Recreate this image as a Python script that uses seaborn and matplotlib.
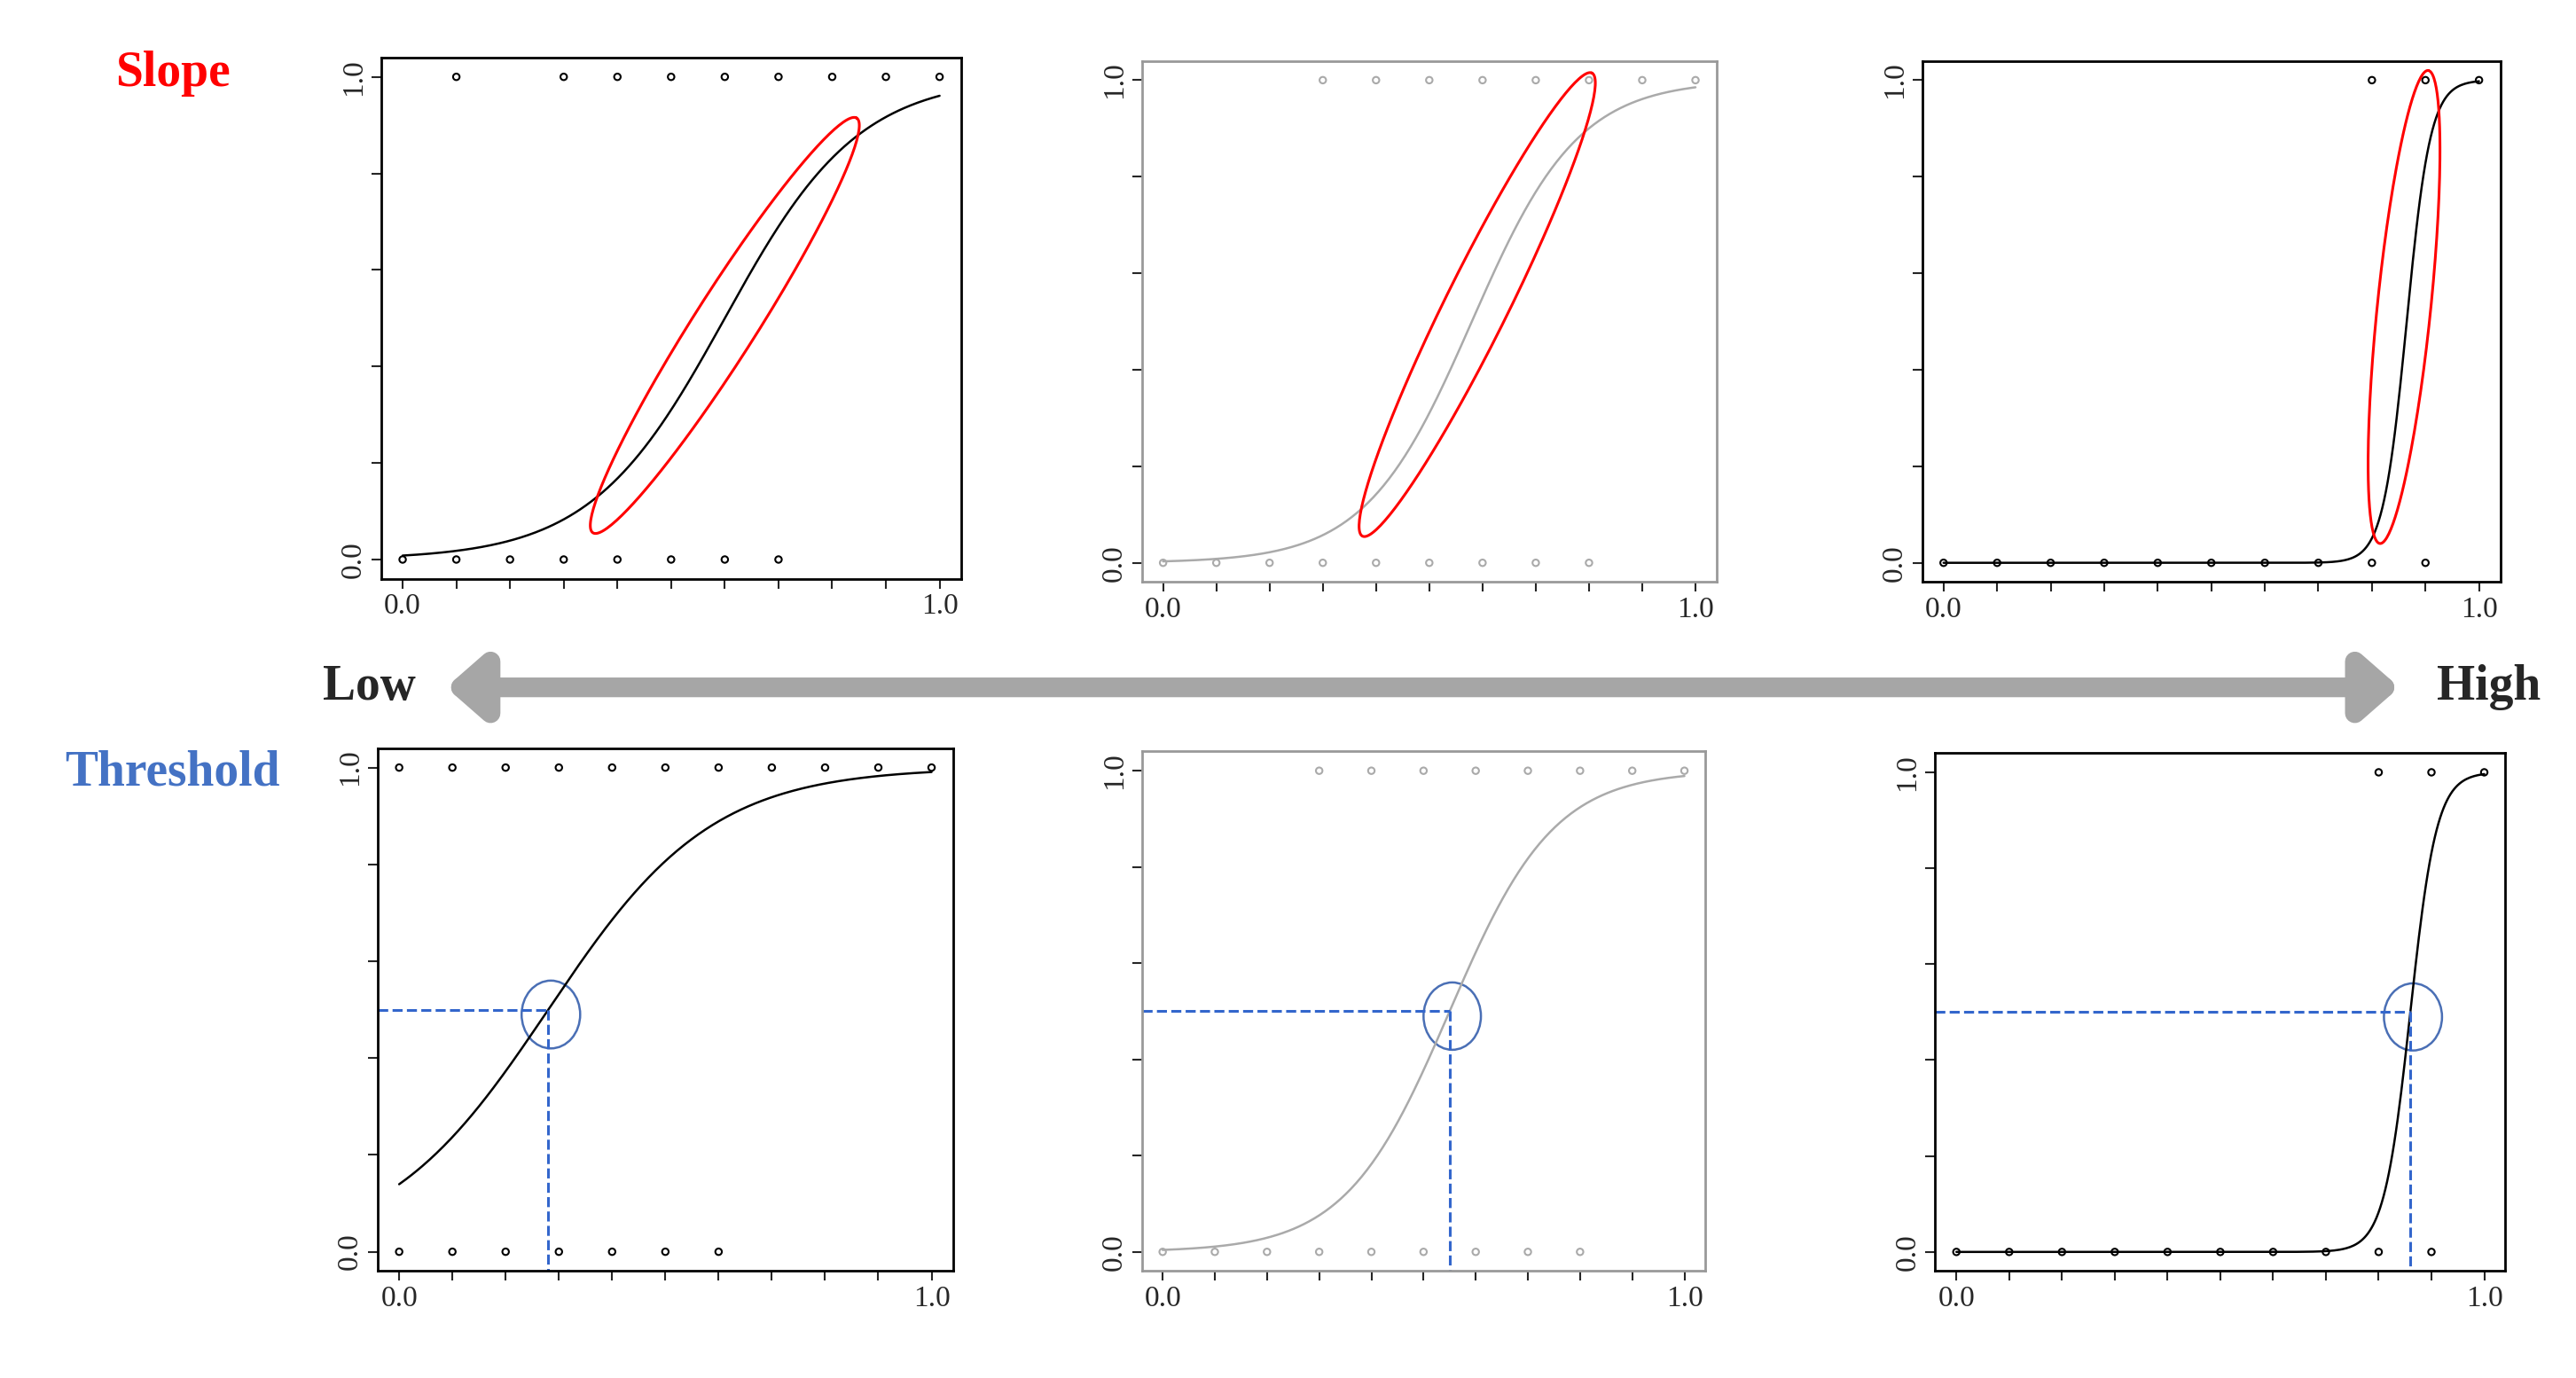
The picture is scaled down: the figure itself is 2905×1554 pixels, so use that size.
import numpy as np
import matplotlib
matplotlib.use("Agg")
import matplotlib.pyplot as plt
import seaborn as sns
from matplotlib.patches import Ellipse, FancyArrowPatch

sns.set_theme(style="white")
plt.rcParams['font.family'] = ['Liberation Serif', 'DejaVu Serif']

# --- data ---
x_top1_ones = [0.1, 0.3, 0.4, 0.5, 0.6, 0.7, 0.8, 0.9, 1.0]
x_top1_zeros = [0.0, 0.1, 0.2, 0.3, 0.4, 0.5, 0.6, 0.7]
x_mid_ones = [0.3, 0.4, 0.5, 0.6, 0.7, 0.8, 0.9, 1.0]
x_mid_zeros = [0.0, 0.1, 0.2, 0.3, 0.4, 0.5, 0.6, 0.7, 0.8]
x_right_ones = [0.8, 0.9, 1.0]
x_right_zeros = [0.0, 0.1, 0.2, 0.3, 0.4, 0.5, 0.6, 0.7, 0.8, 0.9]
x_bl_ones = [0.0, 0.1, 0.2, 0.3, 0.4, 0.5, 0.6, 0.7, 0.8, 0.9, 1.0]
x_bl_zeros = [0.0, 0.1, 0.2, 0.3, 0.4, 0.5, 0.6]

# logistic fit parameters (midpoint, slope)
params_top = [(0.6, 8.0), (0.58, 10.0), (0.865, 45.0)]
params_bot = [(0.28, 6.5), (0.55, 10.0), (0.86, 40.0)]

W, H = 1568, 838
pos_top = [(232, 585, 35, 352), (695, 1045, 37, 354), (1170, 1522, 37, 354)]
pos_bot = [(230, 580, 455, 773), (695, 1038, 457, 773), (1178, 1525, 458, 773)]
colors = ['black', '#aaaaaa', 'black']

fig = plt.figure(figsize=(29.05, 15.54), dpi=100)

def make_ax(p):
    l, r, t, b = p
    return fig.add_axes([l / W, 1 - b / H, (r - l) / W, (b - t) / H])

def style(ax, col):
    ax.set_xlim(-0.04, 1.04)
    ax.set_ylim(-0.04, 1.04)
    for s in ax.spines.values():
        s.set_color('black' if col == 'black' else '#999999')
        s.set_linewidth(2)
    ax.set_yticks([0, 0.2, 0.4, 0.6, 0.8, 1.0])
    ax.set_yticklabels(['0.0', '', '', '', '', '1.0'], rotation=90, va='center')
    ax.set_xticks(np.arange(0, 1.01, 0.1))
    ax.set_xticklabels(['0.0'] + [''] * 9 + ['1.0'])
    ax.tick_params(left=True, bottom=True, length=8, width=1.5, labelsize=24)

datasets = [(x_top1_ones, x_top1_zeros), (x_mid_ones, x_mid_zeros), (x_right_ones, x_right_zeros)]
datasets_bot = [(x_bl_ones, x_bl_zeros), (x_mid_ones, x_mid_zeros), (x_right_ones, x_right_zeros)]
xs = np.linspace(0, 1, 300)

# red ellipses: center, half-major vector, half-minor length
ell_top = [((0.6, 0.485), (0.245, 0.43), 0.06),
           ((0.59, 0.535), (0.215, 0.48), 0.06),
           ((0.86, 0.53), (0.045, 0.49), 0.05)]

for i in range(3):
    for row, (pos, ds, pr) in enumerate([(pos_top, datasets, params_top), (pos_bot, datasets_bot, params_bot)]):
        ax = make_ax(pos[i])
        col = colors[i]
        ones, zeros = ds[i]
        m, k = pr[i]
        sns.lineplot(x=xs, y=1 / (1 + np.exp(-k * (xs - m))), ax=ax, color=col, linewidth=1.8)
        sns.scatterplot(x=ones + zeros, y=[1] * len(ones) + [0] * len(zeros), ax=ax,
                        marker='o', s=28, facecolor='none', edgecolor=col, linewidth=1.5)
        style(ax, col)
        if row == 0:
            c, u, b = ell_top[i]
            u = np.array(u); n = np.array([-u[1], u[0]]) / np.hypot(*u) * b
            t = np.linspace(0, 2 * np.pi, 200)
            pts = np.array(c)[:, None] + np.outer(u, np.cos(t)) + np.outer(n, np.sin(t))
            ax.plot(pts[0], pts[1], color='red', linewidth=2.2)
        else:
            ax.plot([-0.04, m], [0.5, 0.5], color='#3366cc', ls='--', lw=2.2)
            ax.plot([m, m], [0.5, -0.04], color='#3366cc', ls='--', lw=2.2)
            ax.add_patch(Ellipse((m + 0.005, 0.49), 0.11, 0.14, fill=False, ec='#4a6fb5', lw=1.8))

arr = FancyArrowPatch((270 / W, 1 - 418 / H), (1462 / W, 1 - 418 / H), transform=fig.transFigure,
                      arrowstyle='<|-|>,head_length=0.8,head_width=0.7', mutation_scale=30,
                      color='#a6a6a6', linewidth=16)
fig.patches.append(arr)
fig.text(225 / W, 1 - 418 / H, 'Low', fontsize=40, fontweight='bold', ha='center', va='center')
fig.text(1515 / W, 1 - 418 / H, 'High', fontsize=40, fontweight='bold', ha='center', va='center')
fig.text(105 / W, 1 - 45 / H, 'Slope', fontsize=40, fontweight='bold', color='red', ha='center', va='center')
fig.text(105 / W, 1 - 470 / H, 'Threshold', fontsize=40, fontweight='bold', color='#4472c4', ha='center', va='center')

fig.savefig('out.png', dpi=100)
